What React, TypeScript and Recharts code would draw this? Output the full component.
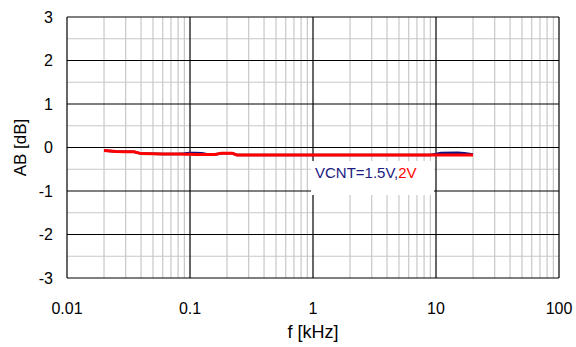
import React from 'react';
import { LineChart, Line, XAxis, YAxis, ReferenceLine } from 'recharts';

const freqKHz = [0.02, 0.025, 0.03, 0.035, 0.04, 0.05, 0.06, 0.08, 0.09, 0.1, 0.11, 0.125, 0.14, 0.16, 0.18, 0.22, 0.24, 0.3, 0.5, 1, 2, 5, 9, 10, 11, 15, 17, 20];
const vcnt15 = [-0.07, -0.09, -0.1, -0.1, -0.14, -0.145, -0.15, -0.15, -0.14, -0.125, -0.125, -0.13, -0.16, -0.16, -0.13, -0.13, -0.17, -0.17, -0.17, -0.17, -0.17, -0.17, -0.17, -0.15, -0.125, -0.12, -0.13, -0.16];
const vcnt2 = [-0.07, -0.09, -0.1, -0.1, -0.14, -0.145, -0.15, -0.15, -0.155, -0.155, -0.16, -0.16, -0.16, -0.16, -0.13, -0.13, -0.17, -0.17, -0.17, -0.17, -0.17, -0.17, -0.17, -0.17, -0.17, -0.17, -0.17, -0.17];

const xTicks = [0.01, 0.1, 1, 10, 100];
const yTicks = [-3, -2, -1, 0, 1, 2, 3];
const xMinor = [0.02, 0.03, 0.04, 0.05, 0.06, 0.07, 0.08, 0.09, 0.2, 0.3, 0.4, 0.5, 0.6, 0.7, 0.8, 0.9, 2, 3, 4, 5, 6, 7, 8, 9, 20, 30, 40, 50, 60, 70, 80, 90];
const yMinor = [-2.5, -1.5, -0.5, 0.5, 1.5, 2.5];

const data = freqKHz.map((f, i) => ({ f, a: vcnt15[i], b: vcnt2[i] }));

const FONT = '"Liberation Sans", Arial, sans-serif';

const YLabel = () => (
  <text x={26} y={147.5} transform="rotate(-90, 26, 147.5)" textAnchor="middle" fontSize={17} fontFamily={FONT} fill="#000">
    AB [dB]
  </text>
);

export default function App() {
  return (
    <div style={{ position: 'absolute', left: 0, top: 0, width: 576, height: 347, background: '#fff' }}>
      <LineChart width={576} height={347} data={data} margin={{ top: 17, right: 17, bottom: 0, left: 10 }}>
        <XAxis
          dataKey="f"
          type="number"
          scale="log"
          domain={[0.01, 100]}
          ticks={xTicks}
          allowDataOverflow
          axisLine={false}
          tickLine={false}
          tickSize={0}
          tickMargin={25}
          height={69}
          tick={{ fontSize: 16, fontFamily: FONT, fill: '#000' }}
          label={{ value: 'f [kHz]', position: 'insideBottom', offset: 9, fontSize: 18, fontFamily: FONT, fill: '#000' }}
        />
        <YAxis
          type="number"
          domain={[-3, 3]}
          ticks={yTicks}
          axisLine={false}
          tickLine={false}
          tickSize={0}
          tickMargin={14}
          width={57}
          tick={{ fontSize: 16, fontFamily: FONT, fill: '#000' }}
          label={<YLabel />}
        />
        {xMinor.map((v) => (
          <ReferenceLine key={'xm' + v} x={v} stroke="#c8c8c8" strokeWidth={1.2} />
        ))}
        {yMinor.map((v) => (
          <ReferenceLine key={'ym' + v} y={v} stroke="#c8c8c8" strokeWidth={1.2} />
        ))}
        {xTicks.map((v) => (
          <ReferenceLine key={'xM' + v} x={v} stroke="#000" strokeWidth={1.2} />
        ))}
        {yTicks.map((v) => (
          <ReferenceLine key={'yM' + v} y={v} stroke="#000" strokeWidth={1.2} />
        ))}
        <Line type="linear" dataKey="a" stroke="#101080" strokeWidth={2.5} dot={false} isAnimationActive={false} />
        <Line type="linear" dataKey="b" stroke="#ff0000" strokeWidth={3} dot={false} isAnimationActive={false} />
      </LineChart>
      <svg width={576} height={347} style={{ position: 'absolute', left: 0, top: 0, pointerEvents: 'none' }}>
        <rect x={311} y={161} width={123} height={34} fill="#fff" />
        <text x={315} y={178} fontSize={15} fontFamily={FONT}>
          <tspan fill="#202080">VCNT=1.5V,</tspan>
          <tspan fill="#ff0000">2V</tspan>
        </text>
      </svg>
    </div>
  );
}
